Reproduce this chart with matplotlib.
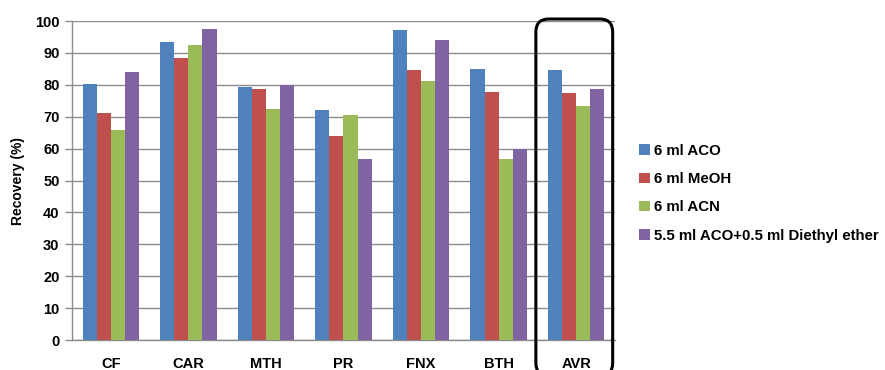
import matplotlib
matplotlib.use("Agg")
import matplotlib.pyplot as plt
import numpy as np
from matplotlib.patches import FancyBboxPatch
from matplotlib.transforms import IdentityTransform

plt.rcParams['font.family'] = ['Liberation Sans', 'DejaVu Sans']
plt.rcParams['font.weight'] = 'bold'

categories = ["CF", "CAR", "MTH", "PR", "FNX", "BTH", "AVR"]
series_names = ["6 ml ACO", "6 ml MeOH", "6 ml ACN",
                "5.5 ml ACO+0.5 ml Diethyl ether"]
aco = [80.2, 93.4, 79.3, 72.2, 97.1, 84.8, 84.5]
meoh = [71.1, 88.5, 78.6, 63.8, 84.7, 77.8, 77.4]
acn = [65.9, 92.6, 72.3, 70.6, 81.2, 56.7, 73.3]
aco_ether = [84.1, 97.4, 80.0, 56.8, 93.9, 59.9, 78.7]
y_ticks = [0, 10, 20, 30, 40, 50, 60, 70, 80, 90, 100]

colors = ["#4F81BD", "#C0504D", "#9BBB59", "#8064A2"]
grid_color = "#8C8C8C"

fig = plt.figure(figsize=(8.85, 3.70), dpi=100)
ax = fig.add_axes([72 / 885, 1 - 340 / 370, 543 / 885, 319 / 370])

x = np.arange(len(categories))
bar_w = 1 / 5.5
for i, (vals, col, name) in enumerate(zip([aco, meoh, acn, aco_ether], colors, series_names)):
    ax.bar(x + (i - 1.5) * bar_w, vals, width=bar_w, color=col, label=name,
           zorder=3, linewidth=0)

ax.set_xlim(-0.5, len(categories) - 0.5)
ax.set_ylim(0, 100)
ax.set_yticks(y_ticks)
ax.set_xticks(x)
ax.set_xticklabels(categories)
ax.yaxis.grid(True, color=grid_color, linewidth=1.0, zorder=0)
ax.set_axisbelow(True)

for side in ["top", "right"]:
    ax.spines[side].set_visible(False)
for side in ["left", "bottom"]:
    ax.spines[side].set_color(grid_color)
    ax.spines[side].set_linewidth(1.0)

ax.tick_params(axis="y", length=5, color=grid_color, width=1.0, pad=4,
               labelsize=10.5)
ax.tick_params(axis="x", length=0, pad=12, labelsize=10.5)
for lbl in ax.get_xticklabels() + ax.get_yticklabels():
    lbl.set_fontweight("bold")

ax.set_ylabel("Recovery (%)", fontsize=10, fontweight="bold", labelpad=7)

# Highlight frame around the average group (drawn in display pixels)
x_left = ax.transData.transform((len(categories) - 1.52, 0))[0]
x_right = ax.transData.transform((len(categories) - 0.53, 0))[0]
y_top = 370 - 19
y_bot = 370 - 376
frame = FancyBboxPatch((x_left, y_bot), x_right - x_left, y_top - y_bot,
                       boxstyle="round,pad=0,rounding_size=13",
                       transform=IdentityTransform(), fill=False,
                       edgecolor="black", linewidth=2.2, zorder=5)
fig.patches.append(frame)

leg = ax.legend(loc="center left", bbox_to_anchor=(1.02, 0.46), frameon=False,
                prop={"size": 10.8, "weight": "bold"}, handlelength=0.7,
                handleheight=0.7, handletextpad=0.3, labelspacing=0.95)

fig.savefig("out.png", dpi=100)
